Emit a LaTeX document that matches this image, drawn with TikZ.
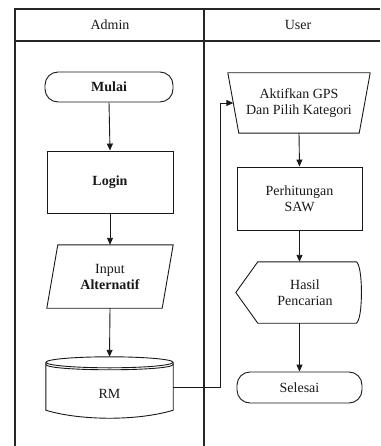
\documentclass[tikz,border=0pt]{standalone}
\usepackage{fontspec}
\setmainfont{Liberation Serif}
\usetikzlibrary{arrows.meta,calc}
\begin{document}
\begin{tikzpicture}[x=1pt,y=-1pt,
  lane/.style={line width=1.5pt, draw=black!85},
  txt/.style={align=center, inner sep=0pt, font=\fontsize{14}{16}\selectfont, text=black!90},
  box/.style={txt, draw=black!90, line width=0.9pt},
  outline/.style={draw=black!90, line width=0.9pt},
  arr/.style={draw=black!90, line width=0.9pt, -{Triangle[length=7pt,width=6pt]}},
]
\useasboundingbox (0,0) rectangle (380,446);
\fill[white] (0,0) rectangle (380,446);
% swimlanes
\draw[lane] (380,9) -- (15,9) -- (15,446);
\draw[lane] (15,41) -- (380,41);
\draw[lane] (204,9) -- (204,446);
\node[txt] (hadmin) at (110,25) {Admin};
\node[txt] (huser) at (298,25) {User};

% Admin lane
\node[box, rounded corners=13pt, minimum width=128pt, minimum height=30pt] (mulai) at (109,87) {\bfseries Mulai};
\node[box, minimum width=126pt, minimum height=62pt] (login) at (110,182) {\bfseries Login};
\node[txt, minimum width=126pt, minimum height=63pt] (input) at (110,276.5) {Input\\\bfseries Alternatif};
\draw[outline] ($(input.north west)+(11,0)$) -- (input.north east) -- ($(input.south east)+(-11,0)$) -- (input.south west) -- cycle;

\node[txt, minimum width=127pt, minimum height=61pt] (rm) at (109.5,387.5) {\raisebox{-11pt}[0pt][0pt]{RM}};
\draw[outline] ($(rm.north)+(0,5.5)$) ellipse [x radius=63.5pt, y radius=5.5pt];
\draw[outline] ($(rm.north west)+(0,7.5)$) .. controls ($(rm.north west)+(0,14.8)$) and ($(rm.north east)+(0,14.8)$) .. ($(rm.north east)+(0,7.5)$);
\draw[outline] ($(rm.north west)+(0,5.5)$) -- ($(rm.south west)+(0,-8)$)
  .. controls ($(rm.south west)+(35,2.7)$) and ($(rm.south east)+(-35,2.7)$) .. ($(rm.south east)+(0,-8)$)
  -- ($(rm.north east)+(0,5.5)$);

% User lane
\node[txt, minimum width=142pt, minimum height=60pt] (akt) at (299,103) {Aktifkan GPS\\Dan Pilih Kategori};
\draw[outline] (akt.north west) -- (akt.north east) -- ($(akt.south east)+(-11,0)$) -- ($(akt.south west)+(11,0)$) -- cycle;
\node[box, minimum width=125pt, minimum height=63pt] (perh) at (299.5,198.5) {Perhitungan\\SAW};
\node[txt, minimum width=114pt, minimum height=61pt] (hasil) at (305,292.5) {Hasil\\Pencarian};
\draw[outline] ($(hasil.west)+(-12,0)$) -- ($(hasil.north west)+(10,0)$) -- ($(hasil.north east)+(-6,0)$)
  .. controls ($(hasil.north east)+(1,3)$) and ($(hasil.south east)+(1,-3)$) .. ($(hasil.south east)+(-6,0)$)
  -- ($(hasil.south west)+(10,0)$) -- cycle;
\node[box, rounded corners=13pt, minimum width=125pt, minimum height=31pt] (sel) at (299.5,387.5) {Selesai};

% connectors
\draw[arr] (mulai.south) -- (login.north);
\draw[arr] (login.south) -- (input.north);
\draw[arr] (input.south) -- (rm.north);
\coordinate (jog) at (220,103);
\coordinate (aktin) at ($(akt.west)+(5.5,0)$);
\draw[arr] (rm.east) -| (jog) -- (aktin);
\draw[arr] (akt.south) -- (perh.north);
\draw[arr] (perh.south) -- (perh.south |- hasil.north);
\draw[arr] (perh.south |- hasil.south) -- (perh.south |- sel.north);
\end{tikzpicture}
\end{document}
